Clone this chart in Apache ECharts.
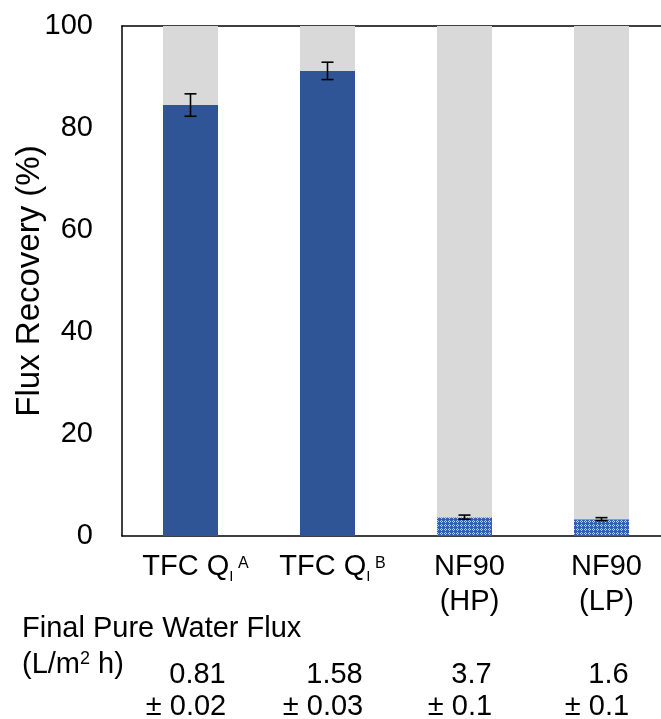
<!DOCTYPE html>
<html>
<head>
<meta charset="utf-8">
<script src="https://cdn.jsdelivr.net/npm/echarts@6/dist/echarts.min.js"></script>
<style>
  html, body { margin: 0; padding: 0; background: #fff; overflow: hidden; }
  #chart { width: 661px; height: 719px; }
</style>
</head>
<body>
<div id="chart"></div>
<script>
// membranes (rich text: sub / superscripts)
var categories = ['{m|TFC Q}{s|I}{p| A}', '{m|TFC Q}{s|I}{p| B}', 'NF90\n(HP)', 'NF90\n(LP)'];
// flux recovery (%) and its error
var recovery = [84.5, 91.2, 3.7, 3.3];
var recoveryErr = [2.2, 1.7, 0.4, 0.3];
// final pure water flux (L/m2 h)
var fluxMean = ['0.81', '1.58', '3.7', '1.6'];
var fluxErr = ['± 0.02', '± 0.03', '± 0.1', '± 0.1'];
var yTicks = [0, 20, 40, 60, 80, 100];

var FONT = 'Liberation Sans';
var FS = 29;

// small blue check pattern for the NF90 bars
function makePattern() {
    var c = document.createElement('canvas');
    c.width = 4; c.height = 4;
    var ctx = c.getContext('2d');
    ctx.fillStyle = '#3260b0';
    ctx.fillRect(0, 0, 4, 4);
    ctx.fillStyle = '#bccdee';
    ctx.fillRect(1, 0, 1, 1);
    ctx.fillRect(0, 1, 1, 1);
    ctx.fillRect(2, 1, 1, 1);
    ctx.fillRect(1, 2, 1, 1);
    return { image: c, repeat: 'repeat' };
}
var hatch = makePattern();

var remainder = recovery.map(function (v) { return +(100 - v).toFixed(1); });
var recData = recovery.map(function (v, i) {
    var nf = categories[i].indexOf('NF90') === 0;
    return { value: v, itemStyle: { color: nf ? hatch : '#2f5597' } };
});
var errData = recovery.map(function (v, i) { return [i, v - recoveryErr[i], v + recoveryErr[i]]; });

var chart = echarts.init(document.getElementById('chart'));
var option = {
    animation: false,
    textStyle: { fontFamily: FONT },
    grid: { show: false, left: 122, top: 26, width: 548, height: 510, outerBoundsMode: 'none', containLabel: false },
    xAxis: [
        {
            type: 'category',
            data: categories,
            position: 'bottom',
            axisLine: { lineStyle: { color: '#000', width: 1.5 } },
            axisTick: { show: false },
            splitLine: { show: false },
            axisLabel: {
                interval: 0,
                margin: 13,
                color: '#000',
                fontFamily: FONT,
                fontSize: FS,
                lineHeight: 35,
                padding: [0, 0, 0, 10],
                rich: {
                    m: { fontSize: FS, lineHeight: 35, color: '#000', fontFamily: FONT },
                    s: { fontSize: 15, lineHeight: 10, verticalAlign: 'bottom', color: '#000', fontFamily: FONT },
                    p: { fontSize: 16, lineHeight: 27, verticalAlign: 'top', padding: [7, 0, 0, 0], color: '#000', fontFamily: FONT }
                }
            }
        },
        {
            type: 'category',
            data: categories,
            position: 'top',
            axisLine: { lineStyle: { color: '#000', width: 1.5 } },
            axisTick: { show: false },
            splitLine: { show: false },
            axisLabel: { show: false }
        },
        {
            type: 'category',
            data: fluxMean,
            position: 'bottom',
            offset: 115,
            axisLine: { show: false },
            axisTick: { show: false },
            splitLine: { show: false },
            axisLabel: {
                interval: 0, margin: 8, color: '#000', fontFamily: FONT,
                fontSize: FS, lineHeight: 32, padding: [0, 0, 0, 14]
            }
        },
        {
            type: 'category',
            data: fluxErr,
            position: 'bottom',
            offset: 147,
            axisLine: { show: false },
            axisTick: { show: false },
            splitLine: { show: false },
            axisLabel: {
                interval: 0, margin: 8, color: '#000', fontFamily: FONT,
                fontSize: FS, lineHeight: 32, padding: [0, 9, 0, 0]
            }
        }
    ],
    yAxis: {
        type: 'value',
        min: yTicks[0],
        max: yTicks[yTicks.length - 1],
        interval: 20,
        name: 'Flux Recovery (%)',
        nameLocation: 'middle',
        nameRotate: 90,
        nameGap: 76,
        nameMoveOverlap: false,
        nameTextStyle: { fontSize: 33, color: '#000', fontFamily: FONT },
        axisLine: { show: true, lineStyle: { color: '#000', width: 1.5 } },
        axisTick: { show: false },
        splitLine: { show: false },
        axisLabel: { margin: 29, fontSize: FS, color: '#000', fontFamily: FONT }
    },
    graphic: [
        {
            type: 'text', left: 22, top: 614,
            style: { text: 'Final Pure Water Flux', fontSize: FS, fontFamily: FONT, fill: '#000' }
        },
        {
            type: 'text', left: 22, top: 650,
            style: {
                text: '(L/m{p|2} h)', fontSize: FS, fontFamily: FONT, fill: '#000',
                rich: { p: { fontSize: 18, verticalAlign: 'top', lineHeight: 26, fontFamily: FONT, fill: '#000' } }
            }
        },
        {
            // keep the right side of the plot open, like the original
            type: 'rect', z: 100,
            shape: { x: 645, y: 28, width: 16, height: 506 },
            style: { fill: '#fff' }
        }
    ],
    series: [
        {
            type: 'bar',
            stack: 'fr',
            barWidth: 55,
            data: recData
        },
        {
            type: 'bar',
            stack: 'fr',
            barWidth: 55,
            itemStyle: { color: '#d9d9d9' },
            data: remainder
        },
        {
            type: 'custom',
            data: errData,
            z: 10,
            renderItem: function (params, api) {
                var lo = api.coord([api.value(0), api.value(1)]);
                var hi = api.coord([api.value(0), api.value(2)]);
                var hw = 6;
                var st = { stroke: '#000', lineWidth: 1.6 };
                return {
                    type: 'group',
                    children: [
                        { type: 'line', shape: { x1: lo[0], y1: lo[1], x2: hi[0], y2: hi[1] }, style: st },
                        { type: 'line', shape: { x1: lo[0] - hw, y1: lo[1], x2: lo[0] + hw, y2: lo[1] }, style: st },
                        { type: 'line', shape: { x1: hi[0] - hw, y1: hi[1], x2: hi[0] + hw, y2: hi[1] }, style: st }
                    ]
                };
            }
        }
    ]
};
chart.setOption(option);
</script>
</body>
</html>
